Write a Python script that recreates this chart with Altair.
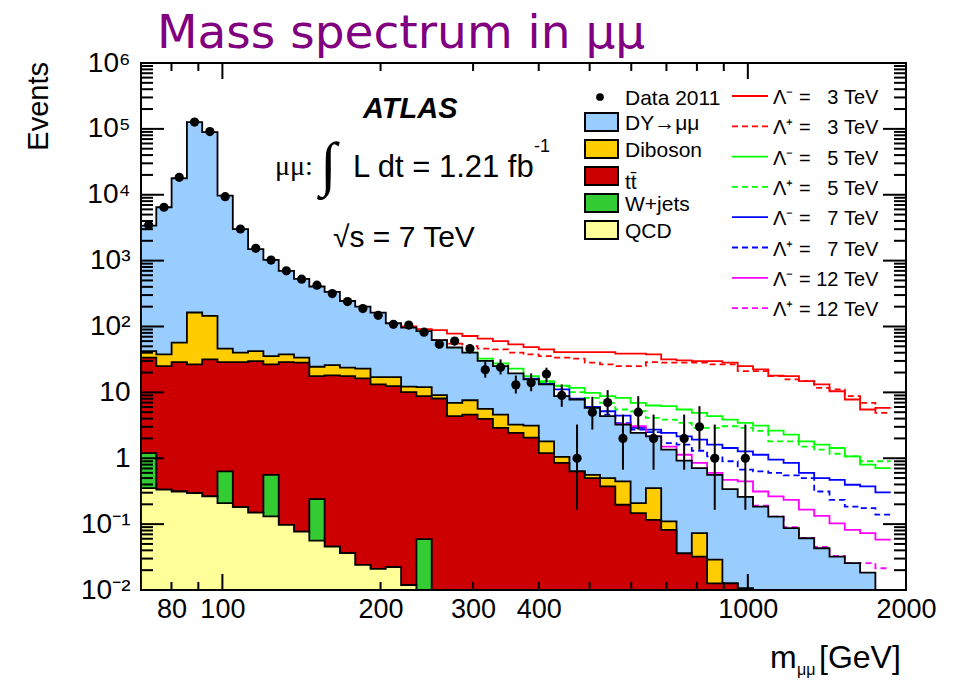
import altair as alt
import pandas as pd

# ---------------- binning (log-spaced histogram bins) ----------------
X_MIN, X_MAX = 70, 2000
N_BINS = 49
edges = [X_MIN * (X_MAX / X_MIN) ** (i / 50) for i in range(N_BINS + 1)]

# ---------------- stacked background (top edge of each stack layer) ----------------
dy_total = [3390, 6460, 17800, 127000, 89500, 9700, 3000, 1500, 1030, 700,
            530, 405, 335, 244, 200, 162, 112, 96, 85, 62,
            48, 40, 30, 25, 19.4, 15.7, 13.2, 8.75, 7.8, 5.8,
            4.35, 3.25, 2.42, 2.15, 1.35, 0.92, 0.71, 0.56, 0.34, 0.26,
            0.185, 0.13, 0.087, 0.061, 0.043, 0.032, 0.0255, 0.0183, 0]
diboson_top = [42.4, 37.7, 56.9, 163, 145, 46.1, 40.1, 42.4, 35.6, 37.7,
               33.6, 24.5, 26, 23.7, 22.9, 17, 17, 12.2, 12, 9.06,
               6.95, 7.6, 5.6, 4.6, 3.25, 3.13, 1.81, 1.05, 0.63, 0.56,
               0.5, 0.445, 0.209, 0.353, 0.11, 0.036, 0.073, 0.029, 0.0126, 0.0106,
               0, 0, 0, 0, 0, 0, 0, 0, 0]
ttbar_top = [33.6, 25.1, 28.8, 26.6, 31.7, 28.8, 28.8, 29.9, 26.6, 28.8,
             28.2, 17.7, 18.1, 17.7, 16.3, 13.2, 12.4, 10.1, 8.75, 8.07,
             4.35, 4.6, 3.96, 2.89, 2.43, 2.06, 1.2, 0.85, 0.63, 0.5,
             0.373, 0.197, 0.147, 0.116, 0.082, 0.036, 0.032, 0.0126, 0.0126, 0.0106,
             0, 0, 0, 0, 0, 0, 0, 0, 0]
wjets_top = [1.2, 0.333, 0.313, 0.296, 0.263, 0.63, 0.181, 0.150, 0.56, 0.0976,
             0.077, 0.24, 0.0456, 0.0362, 0.024, 0.0209, 0.0222, 0.0119, 0.059, 0,
             0, 0, 0, 0, 0, 0, 0, 0, 0, 0,
             0, 0, 0, 0, 0, 0, 0, 0, 0, 0,
             0, 0, 0, 0, 0, 0, 0, 0, 0]
qcd_top = [0.353, 0.333, 0.313, 0.296, 0.263, 0.209, 0.181, 0.150, 0.131, 0.0976,
           0.077, 0.056, 0.0456, 0.0362, 0.024, 0.0209, 0.0222, 0.0119, 0, 0,
           0, 0, 0, 0, 0, 0, 0, 0, 0, 0,
           0, 0, 0, 0, 0, 0, 0, 0, 0, 0,
           0, 0, 0, 0, 0, 0, 0, 0, 0]

# ---------------- data 2011 ----------------
data_counts = [3470, 6460, 18400, 127000, 91000, 9350, 3020, 1535, 1020, 700,
               522, 424, 316, 239, 187, 148, 108, 105, 82, 54,
               60, 46, 22, 24, 13, 14, 19, 9, 1, 5,
               7, 2, 5, 2, None, 2, 3, 1, None, 1,
               None, None, None, None, None, None, None, None, None]
err_first_bin = 19
data_err_lo = [47, 52, 39, 16.7, 18.7, 9.6, 10.4, 14, 6.04, 0.165, 2.72,
               4.6, 0.67, 2.72, 0.67, None, 0.67, 1.35, 0.165, None, 0.165]
data_err_hi = [62, 68, 53, 29.8, 31.7, 18, 19.4, 23.7, 13.2, 3.25, 8.57,
               10.8, 4.6, 8.75, 4.6, None, 4.6, 6.17, 3.25, None, 3.25]

# ---------------- contact-interaction signal predictions ----------------
lm3_start, lam_minus_3 = 17, [100, 91, 88, 78, 71.7, 65.4, 60, 53.6, 48.8, 45, 40.9, 40.9, 40.9, 40.9,
                              38.7, 38.7, 37.7, 31.7, 30.6, 29.9, 29.9, 28.2, 25, 22.3, 18, 17.7,
                              14.8, 13.2, 10.4, 7.8, 5.5, 5.8]
lp3_start, lam_plus_3 = 19, [62, 55, 50.5, 46.1, 45, 40.1, 37.7, 35.6, 33.6, 32.5, 28.2, 26.6, 25.1,
                             25.1, 28.8, 28.2, 28.2, 28.2, 26.6, 26.6, 21, 21, 17.7, 15.7, 14.8,
                             11.7, 11.1, 8.75, 6.95, 4.9]
lm5_start, lam_minus_5 = 21, [40, 32.5, 27.5, 22.9, 17.7, 14.8, 12.7, 11.7, 9.86, 8.75, 8.28, 6.95,
                              6.32, 6.17, 5.5, 4.9, 4.35, 3.87, 3.44, 3.13, 2.63, 2.29, 1.81, 1.61,
                              1.43, 1.07, 0.8, 0.71]
lp5_start, lam_plus_5 = 26, [14, 12.4, 10.1, 8.28, 6.95, 5.5, 5.17, 4.1, 3.87, 3.44, 2.89, 2.89,
                             3.06, 2.89, 2.6, 1.81, 1.81, 1.5, 1.35, 1.17, 1.07, 0.9, 0.9]
lm7_start, lam_minus_7 = 25, [16.1, 13.5, 11.1, 8.0, 6.04, 5.17, 4.45, 2.89, 2.72, 2.43, 2.15, 1.92,
                              1.61, 1.43, 1.27, 1.13, 0.95, 0.85, 0.6, 0.5, 0.47, 0.396, 0.373, 0.303]
lp7_start, lam_plus_7 = 28, [7.8, 5.83, 4.6, 3.4, 2.72, 2.5, 1.7, 1.61, 1.3, 1.07, 0.9, 0.67, 0.63,
                             0.6, 0.55, 0.5, 0.313, 0.234, 0.185, 0.175, 0.139]
lm12_start, lam_minus_12 = 31, [3.3, 3.06, 2.15, 1.5, 1.13, 0.85, 0.6, 0.47, 0.445, 0.313, 0.263,
                                0.234, 0.166, 0.133, 0.103, 0.082, 0.073, 0.058]
lp12_start, lam_plus_12 = 40, [0.19, 0.13, 0.09, 0.062, 0.045, 0.033, 0.0255, 0.0255, 0.0214]

signal_labels = ["Λ⁻ = \u2008 3 TeV", "Λ⁺ = \u2008 3 TeV", "Λ⁻ = \u2008 5 TeV", "Λ⁺ = \u2008 5 TeV",
                 "Λ⁻ = \u2008 7 TeV", "Λ⁺ = \u2008 7 TeV", "Λ⁻ = 12 TeV", "Λ⁺ = 12 TeV"]
signal_colors = ["#ff0000", "#ff0000", "#00ff00", "#00ff00", "#0000ff", "#0000ff", "#ff00ff", "#ff00ff"]
signal_dashed = [False, True, False, True, False, True, False, True]
signal_series = [(lm3_start, lam_minus_3), (lp3_start, lam_plus_3), (lm5_start, lam_minus_5),
                 (lp5_start, lam_plus_5), (lm7_start, lam_minus_7), (lp7_start, lam_plus_7),
                 (lm12_start, lam_minus_12), (lp12_start, lam_plus_12)]

stack_labels = ["DY→μμ", "Diboson", "tt\u0304", "W+jets", "QCD"]
stack_colors = ["#99ccff", "#ffcc00", "#cc0000", "#33cc33", "#ffff99"]
stack_series = [dy_total, diboson_top, ttbar_top, wjets_top, qcd_top]

x_tick_labels = [80, 100, 200, 300, 400, 1000, 2000]
x_major_ticks = [100, 1000]
x_minor_ticks = [80, 90, 200, 300, 400, 500, 600, 700, 800, 900]
y_labels = ["10⁻²", "10⁻¹", "1", "10", "10²", "10³", "10⁴", "10⁵", "10⁶"]

# ---------------- layout constants ----------------
W, H = 765, 527
FLOOR = 1e-5
FONT = "Liberation Sans"

xs = alt.Scale(type="log", domain=[X_MIN, X_MAX], nice=False)
ys = alt.Scale(type="log", domain=[0.01, 1e6], nice=False, clamp=True)

x_axis = alt.Axis(values=x_tick_labels, format="d", title=None, ticks=False, domain=False, grid=False,
                  labelFont=FONT, labelFontSize=27, labelColor="black", labelPadding=6,
                  labelFlush=False, labelOverlap=False)
y_axis = alt.Axis(values=[10.0 ** k for k in range(-2, 7)], title=None, ticks=False, domain=False,
                  grid=False, labelFont=FONT, labelFontSize=28, labelColor="black", labelPadding=11,
                  labelFlush=False, labelOverlap=False,
                  labelExpr="%s[round(log(datum.value)/log(10))+2]" % str(y_labels).replace("'", '"'))


def X(field="x"):
    return alt.X(f"{field}:Q", scale=xs, axis=x_axis)


def Y(field="y"):
    return alt.Y(f"{field}:Q", scale=ys, axis=y_axis)


def step_frame(values, start=0):
    rows = []
    for i, v in enumerate(values):
        rows.append({"x": edges[start + i], "y": v if v and v > 0 else FLOOR})
    rows.append({"x": edges[start + len(values)], "y": rows[-1]["y"]})
    return pd.DataFrame(rows)


layers = []

# signal lines (drawn first so that the SM stack covers them where they coincide)
for (start, vals), col, dashed in zip(signal_series, signal_colors, signal_dashed):
    kw = dict(strokeDash=[6, 4]) if dashed else {}
    layers.append(alt.Chart(step_frame(vals, start)).mark_line(
        interpolate="step-after", color=col, strokeWidth=1.8, clip=True, **kw
    ).encode(x=X(), y=Y()))

# stacked backgrounds
for vals, col in zip(stack_series, stack_colors):
    df = step_frame(vals)
    df["base"] = 0.01
    layers.append(alt.Chart(df).mark_area(
        interpolate="step-after", fill=col, fillOpacity=1, stroke="black", strokeWidth=1.8, clip=True
    ).encode(x=X(), y=Y(), y2="base:Q"))

# data points
centers = [(edges[i] * edges[i + 1]) ** 0.5 for i in range(N_BINS)]
pts = pd.DataFrame({"x": centers, "y": data_counts}).dropna()
err_rows = []
for j, (lo, hi) in enumerate(zip(data_err_lo, data_err_hi)):
    if lo is not None:
        err_rows.append({"x": centers[err_first_bin + j], "lo": lo, "hi": hi})
errs = pd.DataFrame(err_rows)
layers.append(alt.Chart(errs).mark_rule(color="black", strokeWidth=2).encode(x=X(), y=Y("lo"), y2="hi:Q"))
layers.append(alt.Chart(pts).mark_circle(color="black", size=85, opacity=1).encode(x=X(), y=Y()))

# ROOT-style inward ticks on all four sides
y_major = [10.0 ** k for k in range(-2, 7)]
y_minor = [m * 10.0 ** k for k in range(-2, 6) for m in range(2, 10)]
for vals, ln in ((y_major, 23), (y_minor, 12)):
    d = pd.DataFrame({"y": vals})
    layers.append(alt.Chart(d).mark_rule(color="black", strokeWidth=2).encode(
        y=Y(), x=alt.value(0), x2=alt.value(ln)))
    layers.append(alt.Chart(d).mark_rule(color="black", strokeWidth=2).encode(
        y=Y(), x=alt.value(W), x2=alt.value(W - ln)))
for vals, ln in ((x_major_ticks, 16), (x_minor_ticks, 8)):
    d = pd.DataFrame({"x": vals})
    layers.append(alt.Chart(d).mark_rule(color="black", strokeWidth=2).encode(
        x=X(), y=alt.value(H), y2=alt.value(H - ln)))
    layers.append(alt.Chart(d).mark_rule(color="black", strokeWidth=2).encode(
        x=X(), y=alt.value(0), y2=alt.value(ln)))

dummy = pd.DataFrame({"a": [0]})


def text(s, x, y, size, font=FONT, color="black", **kw):
    return alt.Chart(dummy).mark_text(text=s, font=font, fontSize=size, color=color,
                                      align=kw.pop("align", "left"),
                                      baseline=kw.pop("baseline", "alphabetic"), **kw
                                      ).encode(x=alt.value(x), y=alt.value(y))


# legend: data + stack boxes
layers.append(alt.Chart(dummy).mark_circle(color="black", size=60, opacity=1).encode(
    x=alt.value(459), y=alt.value(34)))
layers.append(text("Data 2011", 484, 42, 21))
for i, (lab, col) in enumerate(zip(stack_labels, stack_colors)):
    yc = 59 + 27 * i
    layers.append(alt.Chart(dummy).mark_rect(fill=col, stroke="black", strokeWidth=2).encode(
        x=alt.value(444), x2=alt.value(477), y=alt.value(yc - 9), y2=alt.value(yc + 9)))
    layers.append(text(lab, 484, yc + 8 + (5 if i == 2 else 0), 21))

# legend: signal lines
for i, (lab, col, dashed) in enumerate(zip(signal_labels, signal_colors, signal_dashed)):
    yc = 33 + 30.3 * i
    kw = dict(strokeDash=[6, 4]) if dashed else {}
    layers.append(alt.Chart(dummy).mark_rule(color=col, strokeWidth=1.8, **kw).encode(
        x=alt.value(591), x2=alt.value(627), y=alt.value(yc)))
    layers.append(text(lab, 632, yc + 8, 20))

# ATLAS labels
layers.append(text("ATLAS", 222, 55, 29, fontWeight="bold", fontStyle="italic"))
layers.append(text("μμ:", 134, 112, 28, font="Liberation Serif"))
layers.append(text("∫", 179, 121, 60, font="Liberation Serif"))
layers.append(text("L dt = 1.21 fb", 212, 114, 31))
layers.append(text("-1", 393, 89, 18))
layers.append(text("√s = 7 TeV", 192, 184, 30))

# titles
layers.append(text("Mass spectrum in μμ", 16, -15, 47, font="DejaVu Sans", color="#800080"))
layers.append(text("Events", -93, -1, 29, angle=270, align="right"))
layers.append(text("m", 629, 605, 32))
layers.append(text("μμ", 656, 612, 16))
layers.append(text("[GeV]", 678, 605, 32))

chart = alt.layer(*layers).properties(
    width=W, height=H,
    autosize=alt.AutoSizeParams(type="none"),
    padding={"left": 141, "top": 63, "right": 53, "bottom": 92},
    background="white",
).configure_view(stroke="black", strokeWidth=2)

chart.save("out.html", embed_options={"renderer": "svg", "actions": False})
